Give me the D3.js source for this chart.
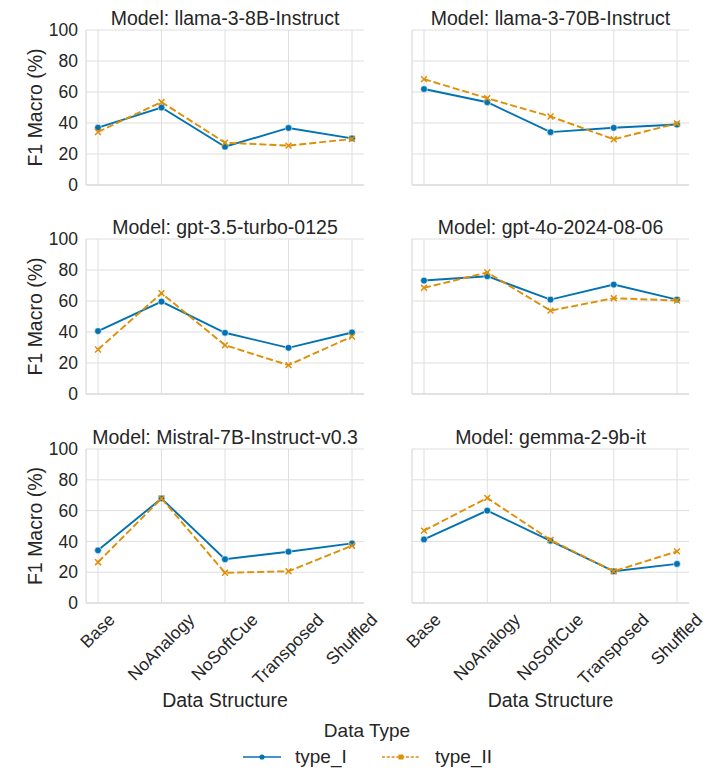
<!DOCTYPE html>
<html><head><meta charset="utf-8">
<script src="https://cdn.jsdelivr.net/npm/d3@7"></script>
<style>body{margin:0;background:#fff}text{font-family:"Liberation Sans",Arial,sans-serif;fill:#262626}</style>
</head><body><svg id="c" width="726" height="771"></svg>
<script>
const structures = ["Base","NoAnalogy","NoSoftCue","Transposed","Shuffled"];
const models = ["llama-3-8B-Instruct","llama-3-70B-Instruct","gpt-3.5-turbo-0125","gpt-4o-2024-08-06","Mistral-7B-Instruct-v0.3","gemma-2-9b-it"];
const typeI = [
  [37.0,50.0,24.7,36.8,30.1],
  [61.9,53.4,34.1,36.9,39.0],
  [40.6,59.6,39.5,29.8,39.7],
  [73.2,76.0,60.9,70.6,60.9],
  [34.2,67.9,28.4,33.3,38.7],
  [41.3,60.0,40.4,20.6,25.4]
];
const typeII = [
  [34.2,53.5,27.3,25.4,29.7],
  [68.3,56.0,44.2,29.5,39.7],
  [28.7,65.0,31.5,18.6,37.1],
  [68.5,78.4,53.8,61.8,60.3],
  [26.5,67.9,19.6,20.6,37.2],
  [47.0,68.2,40.9,20.6,33.5]
];
const yTicks = [0,20,40,60,80,100];
const seriesNames = ["type_I","type_II"];
const colors = ["#0173b2","#de8f05"];

const svg = d3.select("#c");
const colX = [[86,364],[412,689]];
const rowY = [[30,185],[239,394],[449,603]];
const grid = "#dedede";
const FONT = "Liberation Sans, Arial, sans-serif";

models.forEach((m,i)=>{
  const r = Math.floor(i/2), c = i%2;
  const [x0,x1] = colX[c], [y0,y1] = rowY[r];
  const x = d3.scalePoint().domain(structures).range([x0+12,x1-12]);
  const y = d3.scaleLinear().domain([0,100]).range([y1,y0]);
  const g = svg.append("g");
  g.selectAll(".hg").data(yTicks).enter().append("line")
    .attr("x1",x0).attr("x2",x1).attr("y1",d=>y(d)).attr("y2",d=>y(d))
    .attr("stroke",grid).attr("stroke-width",1);
  g.selectAll(".vg").data(structures).enter().append("line")
    .attr("x1",d=>x(d)).attr("x2",d=>x(d)).attr("y1",y0).attr("y2",y1)
    .attr("stroke",grid).attr("stroke-width",1);
  g.append("line").attr("x1",x0).attr("x2",x0).attr("y1",y0).attr("y2",y1).attr("stroke",grid).attr("stroke-width",1.3);
  g.append("line").attr("x1",x0).attr("x2",x1).attr("y1",y1).attr("y2",y1).attr("stroke",grid).attr("stroke-width",1.3);
  if(c===0){
    const ya = d3.axisLeft(y).tickValues(yTicks).tickSize(0).tickPadding(8);
    const ag = g.append("g").attr("transform",`translate(${x0},0)`).call(ya);
    ag.select(".domain").remove();
    ag.selectAll("text").style("font-size","17.5px").attr("fill","#262626").style("font-family",FONT);
    g.append("text").attr("transform",`translate(42,${(y0+y1)/2}) rotate(-90)`)
      .attr("text-anchor","middle").style("font-size","19.5px").text("F1 Macro (%)");
  }
  if(r===2){
    const fs = 17.5;
    const xa = d3.axisBottom(x).tickSize(0).tickPadding(0);
    const ag = g.append("g").attr("transform",`translate(0,${y1})`).call(xa);
    ag.select(".domain").remove();
    const cs = Math.SQRT1_2, asc = 0.72*fs, desc = 0.2*fs, top = 612 - y1;
    ag.selectAll("text").attr("fill","#262626").style("font-size",fs+"px")
      .style("font-family",FONT)
      .attr("text-anchor","middle").attr("dy",null).attr("y",null)
      .attr("transform",function(){
        const L = this.getComputedTextLength();
        const px = cs*(asc-desc)/2;
        const py = top + cs*(L/2+asc);
        return `translate(${px},${py}) rotate(-45)`;
      });
    g.append("text").attr("x",(x0+x1)/2).attr("y",707).attr("text-anchor","middle")
      .style("font-size","19.5px").text("Data Structure");
  }
  g.append("text").attr("x",(x0+x1)/2).attr("y",y0-5).attr("text-anchor","middle")
    .style("font-size","19.5px").text("Model: "+m);
  [typeI[i],typeII[i]].forEach((vals,k)=>{
    const line = d3.line().x((d,j)=>x(structures[j])).y(d=>y(d));
    g.append("path").datum(vals).attr("d",line).attr("fill","none")
      .attr("stroke",colors[k]).attr("stroke-width",1.9)
      .attr("stroke-dasharray",k===1?"7,3":null);
    if(k===0){
      g.selectAll(".m0").data(vals).enter().append("circle")
        .attr("cx",(d,j)=>x(structures[j])).attr("cy",d=>y(d)).attr("r",3.4)
        .attr("fill",colors[0]).attr("stroke","#fff").attr("stroke-width",0.6);
    } else {
      const sym = d3.symbol().type(d3.symbolX).size(24);
      g.selectAll(".m1").data(vals).enter().append("path")
        .attr("d",sym).attr("transform",(d,j)=>`translate(${x(structures[j])},${y(d)})`)
        .attr("stroke",colors[1]).attr("stroke-width",1.5).attr("fill","none");
    }
  });
});

svg.append("text").attr("x",367).attr("y",737).attr("text-anchor","middle").style("font-size","19px").text("Data Type");
const lg = svg.append("g");
const items = [{x:243,tx:295},{x:382,tx:435}];
seriesNames.forEach((s,k)=>{
  const it = items[k];
  lg.append("line").attr("x1",it.x).attr("x2",it.x+38).attr("y1",757).attr("y2",757)
    .attr("stroke",colors[k]).attr("stroke-width",1.3).attr("stroke-dasharray",k===1?"3,1.8":null);
  if(k===0) lg.append("circle").attr("cx",it.x+19).attr("cy",757).attr("r",2.6).attr("fill",colors[0]);
  else lg.append("rect").attr("x",it.x+16.5).attr("y",754.5).attr("width",5).attr("height",5).attr("fill",colors[1]);
  lg.append("text").attr("x",it.tx).attr("y",763).style("font-size","19px").text(s);
});
</script></body></html>
